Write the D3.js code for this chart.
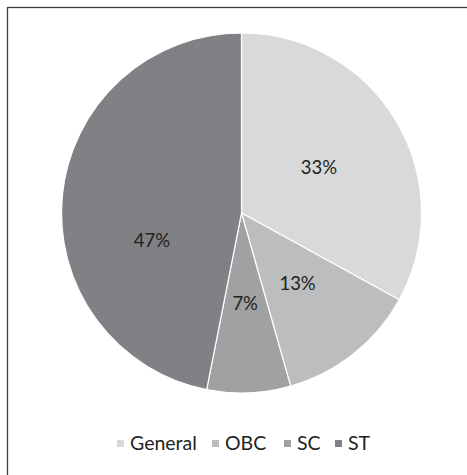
<!DOCTYPE html>
<html>
<head>
<meta charset="utf-8">
<script src="https://cdn.jsdelivr.net/npm/d3@7"></script>
<style>
  body { margin: 0; background: #fff; }
  svg { display: block; font-family: Lato, 'Open Sans', sans-serif; }
</style>
</head>
<body>
<div id="chart"></div>
<script>
// data
const categories = ['General', 'OBC', 'SC', 'ST']
const shares = [33.0, 12.6, 7.5, 46.9]
const labels = ['33%', '13%', '7%', '47%']
const colors = ['#d8d9da', '#bcbdbf', '#a0a1a3', '#808184']

const width = 467
const height = 475
const cx = 241.5
const cy = 213
const radius = 180

const svg = d3.select('#chart')
  .append('svg')
  .attr('width', width)
  .attr('height', height)

// frame (runs off the right and bottom edge)
svg.append('rect')
  .attr('x', 7.5)
  .attr('y', 7.5)
  .attr('width', 480)
  .attr('height', 480)
  .attr('fill', 'none')
  .attr('stroke', '#3d3d3d')
  .attr('stroke-width', 1.3)

const color = d3.scaleOrdinal().domain(categories).range(colors)

const pie = d3.pie().sort(null).value(d => d.value)
const arcs = pie(categories.map((c, i) => ({ name: c, value: shares[i], label: labels[i] })))
const arc = d3.arc().innerRadius(0).outerRadius(radius)

const g = svg.append('g').attr('transform', `translate(${cx},${cy})`)

g.selectAll('path')
  .data(arcs)
  .enter().append('path')
  .attr('d', arc)
  .attr('fill', d => color(d.data.name))
  .attr('stroke', '#fff')
  .attr('stroke-width', 1.2)

// the big slice label sits a bit lower than its centroid
const nudge = { ST: [0, 36] }

g.selectAll('text')
  .data(arcs)
  .enter().append('text')
  .attr('transform', d => {
    const c = arc.centroid(d)
    const n = nudge[d.data.name] || [0, 0]
    return `translate(${c[0] + n[0]},${c[1] + n[1]})`
  })
  .attr('text-anchor', 'middle')
  .attr('dy', '0.36em')
  .attr('font-size', 18.5)
  .attr('fill', '#231f20')
  .text(d => d.data.label)

// legend
const legend = svg.append('g').attr('transform', 'translate(0,443)')
const itemX = [117, 212, 284, 335]
const item = legend.selectAll('g')
  .data(categories)
  .enter().append('g')
  .attr('transform', (d, i) => `translate(${itemX[i]},0)`)

item.append('rect')
  .attr('x', 0)
  .attr('y', -3)
  .attr('width', 7)
  .attr('height', 7)
  .attr('fill', d => color(d))

item.append('text')
  .attr('x', 13)
  .attr('dy', '0.36em')
  .attr('font-size', 19.5)
  .attr('fill', '#231f20')
  .text(d => d)
</script>
</body>
</html>
